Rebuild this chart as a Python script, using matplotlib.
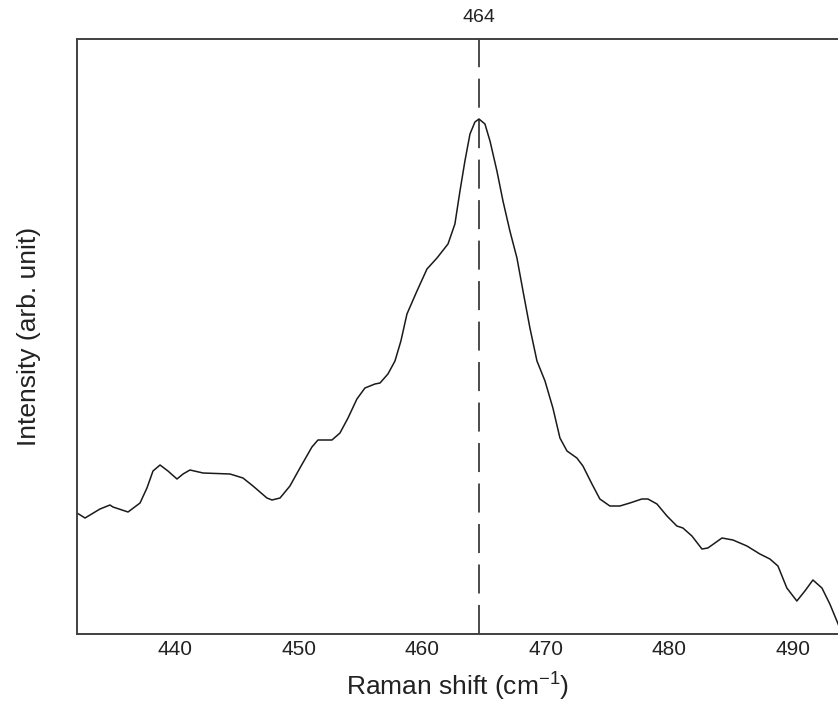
import numpy as np
import matplotlib.pyplot as plt
from matplotlib.transforms import blended_transform_factory

plt.rcParams['font.family'] = ['Liberation Sans', 'DejaVu Sans']
plt.rcParams['mathtext.default'] = 'regular'

# Raman spectrum (wavenumber in cm^-1, intensity in arbitrary units)
shift = [432.07, 432.72, 433.93, 434.74, 434.98, 436.20, 437.17, 437.73, 438.22,
         438.79, 439.43, 440.16, 440.65, 441.21, 442.27, 444.45, 445.50, 446.31,
         447.44, 447.85, 448.50, 449.30, 450.11, 451.08, 451.57, 452.70, 453.35,
         454.00, 454.72, 455.37, 456.18, 456.59, 457.23, 457.80, 458.28, 458.77,
         459.58, 460.39, 461.20, 462.09, 462.65, 463.06, 463.46, 463.87, 464.27,
         464.60, 465.08, 465.49, 466.05, 466.54, 467.10, 467.67, 468.16, 468.72,
         469.29, 469.94, 470.58, 471.15, 471.72, 472.52, 473.01, 473.74, 474.38,
         475.19, 476.00, 476.81, 477.78, 478.27, 479.00, 479.81, 480.61, 481.10,
         481.83, 482.64, 483.12, 484.26, 485.15, 486.28, 487.33, 488.14, 488.79,
         489.51, 490.32, 490.97, 491.62, 492.35, 492.99, 493.56, 494.21]
intensity = [121, 116, 125, 129, 127, 122, 131, 146, 163,
             169, 163, 155, 160, 164, 161, 160, 156, 148,
             136, 134, 136, 148, 166, 187, 194, 194, 201,
             216, 235, 246, 250, 251, 260, 273, 293, 320,
             343, 365, 376, 390, 410, 443, 473, 500, 512,
             515, 510, 493, 463, 433, 403, 376, 343, 306,
             273, 253, 226, 196, 183, 176, 168, 150, 135,
             128, 128, 131, 135, 135, 130, 118, 108, 106,
             98, 85, 86, 96, 94, 88, 80, 75, 68,
             46, 33, 43, 54, 46, 30, 13, -7]

peak_pos = 464.6
peak_label = '464'

fig = plt.figure(figsize=(8.38, 7.07), dpi=100)
ax = fig.add_axes([77 / 838, 1 - 634 / 707, 1 - 77 / 838, (634 - 39) / 707])

ax.plot(shift, intensity, color='#1a1a1a', lw=1.1, solid_joinstyle='round')
ax.axvline(peak_pos, color='#1a1a1a', lw=1.1, dashes=(19, 7.5))

ax.set_xlim(432.07, 493.65)
ax.set_ylim(0, 595)

ax.set_xticks([440, 450, 460, 470, 480, 490])
ax.set_yticks([])
ax.tick_params(axis='x', length=0, pad=4, labelsize=15, labelcolor='#222222')

for side in ['left', 'bottom', 'top']:
    ax.spines[side].set_linewidth(1.4)
    ax.spines[side].set_color('#404040')
ax.spines['right'].set_visible(False)

trans = blended_transform_factory(ax.transData, ax.transAxes)
ax.text(peak_pos, 1.022, peak_label, transform=trans, ha='center', va='bottom',
        fontsize=14, color='#222222')

ax.set_xlabel('Raman shift (cm$^{-1}$)', fontsize=19, labelpad=9, color='#222222')
ax.set_ylabel('Intensity (arb. unit)', fontsize=19, labelpad=26, color='#222222')

plt.savefig('out.png', dpi=100)
